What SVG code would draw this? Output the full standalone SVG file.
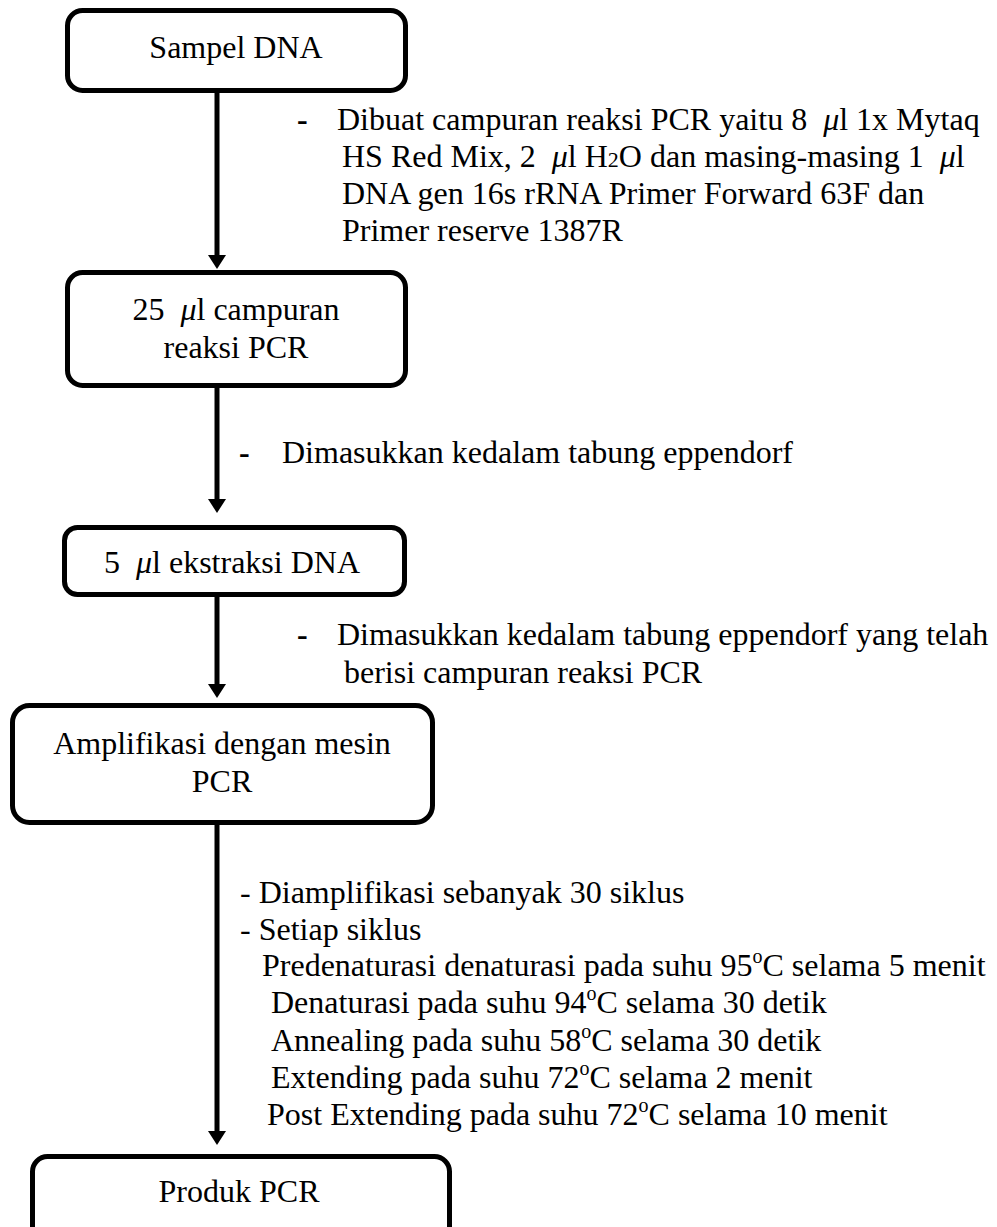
<svg xmlns="http://www.w3.org/2000/svg" width="997" height="1227" viewBox="0 0 997 1227">
  <style>
    .box { fill: #ffffff; stroke: #000000; stroke-width: 5; }
    .t { font-family: "Liberation Serif", "Times New Roman", serif; font-size: 32px; fill: #000000; }
    .c { text-anchor: middle; }
    .mu { font-style: italic; }
    .dash { font-weight: bold; }
    .link { stroke: #000000; stroke-width: 5; fill: none; marker-end: url(#head); }
  </style>
  <defs>
    <marker id="head" markerUnits="userSpaceOnUse" markerWidth="14" markerHeight="18" refX="0" refY="9" orient="auto" viewBox="0 0 14 18">
      <path d="M0,0 L14,9 L0,18 z" fill="#000000"/>
    </marker>
  </defs>

  <rect width="997" height="1227" fill="#ffffff"/>

  <!-- connectors -->
  <g id="connectors">
    <line class="link" x1="217" y1="93" x2="217" y2="255"/>
    <line class="link" x1="217" y1="388" x2="217" y2="499"/>
    <line class="link" x1="217" y1="597" x2="217" y2="684"/>
    <line class="link" x1="217" y1="825" x2="217" y2="1131"/>
  </g>

  <!-- step labels beside the connectors -->
  <g id="note-mix">
    <text class="t dash" x="297" y="130">-</text>
    <text class="t" xml:space="preserve" x="337" y="130">Dibuat campuran reaksi PCR yaitu 8  <tspan class="mu">μ</tspan>l 1x Mytaq</text>
    <text class="t" xml:space="preserve" x="342" y="167">HS Red Mix, 2  <tspan class="mu">μ</tspan>l H<tspan font-size="22">2</tspan>O dan masing-masing 1  <tspan class="mu">μ</tspan>l</text>
    <text class="t" x="342" y="204">DNA gen 16s rRNA Primer Forward 63F dan</text>
    <text class="t" x="342" y="241">Primer reserve 1387R</text>
  </g>

  <g id="note-tube">
    <text class="t dash" x="239" y="463">-</text>
    <text class="t" x="282" y="463">Dimasukkan kedalam tabung eppendorf</text>
  </g>

  <g id="note-insert">
    <text class="t dash" x="297" y="645">-</text>
    <text class="t" x="337" y="645">Dimasukkan kedalam tabung eppendorf yang telah</text>
    <text class="t" x="344" y="683">berisi campuran reaksi PCR</text>
  </g>

  <g id="note-cycle">
    <text class="t" x="240" y="903">- Diamplifikasi sebanyak 30 siklus</text>
    <text class="t" x="240" y="940">- Setiap siklus</text>
    <text class="t" x="262" y="976">Predenaturasi denaturasi pada suhu 95<tspan font-size="20" dy="-13">o</tspan><tspan dy="13">C selama 5 menit</tspan></text>
    <text class="t" x="271" y="1013">Denaturasi pada suhu 94<tspan font-size="20" dy="-13">o</tspan><tspan dy="13">C selama 30 detik</tspan></text>
    <text class="t" x="271" y="1051">Annealing pada suhu 58<tspan font-size="20" dy="-13">o</tspan><tspan dy="13">C selama 30 detik</tspan></text>
    <text class="t" x="271" y="1088">Extending pada suhu 72<tspan font-size="20" dy="-13">o</tspan><tspan dy="13">C selama 2 menit</tspan></text>
    <text class="t" x="267" y="1125">Post Extending pada suhu 72<tspan font-size="20" dy="-13">o</tspan><tspan dy="13">C selama 10 menit</tspan></text>
  </g>

  <!-- nodes -->
  <g id="node-sampel">
    <rect class="box" x="67.5" y="10.5" width="338" height="80" rx="15"/>
    <text class="t c" x="236" y="58">Sampel DNA</text>
  </g>

  <g id="node-campuran">
    <rect class="box" x="67.5" y="272.5" width="338" height="113" rx="15"/>
    <text class="t c" xml:space="preserve" x="236" y="320">25  <tspan class="mu">μ</tspan>l campuran</text>
    <text class="t c" x="236" y="358">reaksi PCR</text>
  </g>

  <g id="node-ekstraksi">
    <rect class="box" x="64.5" y="527.5" width="340" height="67" rx="13"/>
    <text class="t c" xml:space="preserve" x="232" y="573">5  <tspan class="mu">μ</tspan>l ekstraksi DNA</text>
  </g>

  <g id="node-amplifikasi">
    <rect class="box" x="12.5" y="705.5" width="420" height="117" rx="17"/>
    <text class="t c" x="222" y="754">Amplifikasi dengan mesin</text>
    <text class="t c" x="222" y="792">PCR</text>
  </g>

  <g id="node-produk">
    <rect class="box" x="32.5" y="1156.5" width="417" height="90" rx="15"/>
    <text class="t c" x="239" y="1202">Produk PCR</text>
  </g>
</svg>
